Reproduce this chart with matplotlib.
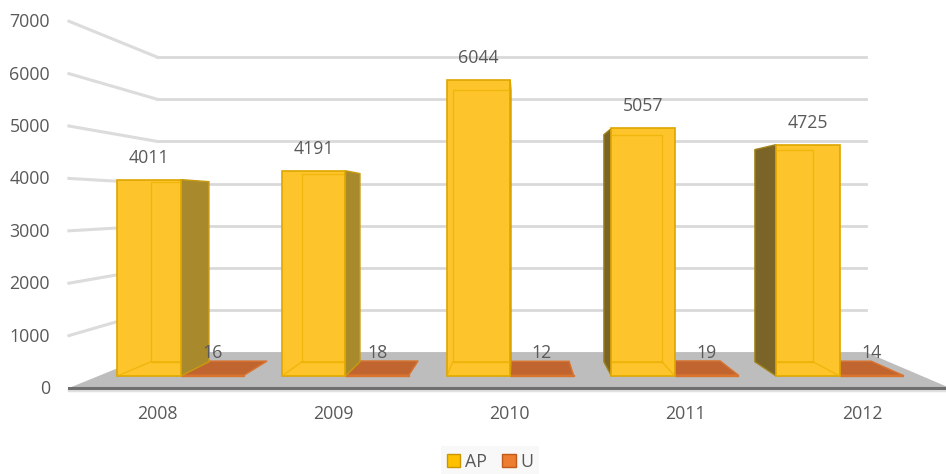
import matplotlib.pyplot as plt
from matplotlib.patches import Polygon, Patch

years = ['2008', '2009', '2010', '2011', '2012']
ap_values = [4011, 4191, 6044, 5057, 4725]
u_values = [16, 18, 12, 19, 14]
y_ticks = [0, 1000, 2000, 3000, 4000, 5000, 6000, 7000]

plt.rcParams['font.family'] = ['Open Sans', 'DejaVu Sans']
TXT = '#595959'
FS = 12.8

# simple perspective: a point at depth factor s is pulled toward (VX, VY)
VX, VY = 2.06, 3500
FRONT, BAR_FRONT, BAR_BACK, BACK = 1.0, 0.9346, 0.857, 0.804
X_LEFT, X_RIGHT = -0.5, 4.5
BAR_W = 0.385


def proj(x, v, s):
    return (VX + s * (x - VX), VY + s * (v - VY))


def box_faces(x0, x1, v):
    f = [proj(x0, 0, BAR_FRONT), proj(x1, 0, BAR_FRONT), proj(x1, v, BAR_FRONT), proj(x0, v, BAR_FRONT)]
    b = [proj(x0, 0, BAR_BACK), proj(x1, 0, BAR_BACK), proj(x1, v, BAR_BACK), proj(x0, v, BAR_BACK)]
    top = [f[3], f[2], b[2], b[3]]
    bottom = [f[0], f[1], b[1], b[0]]
    left = [f[0], b[0], b[3], f[3]]
    right = [f[1], b[1], b[2], f[2]]
    return f, b, top, bottom, left, right


fig = plt.figure(figsize=(9.46, 4.74), dpi=100)
ax = fig.add_axes([0, 0, 1, 1])
ax.set_xlim(-0.891, 4.477)
ax.set_ylim(-1641, 7405)
ax.axis('off')

# floor
floor = [proj(X_LEFT, 0, FRONT), proj(X_RIGHT, 0, FRONT), proj(X_RIGHT, 0, BACK), proj(X_LEFT, 0, BACK)]
ax.add_patch(Polygon(floor, closed=True, fc='#bdbdbd', ec='none', zorder=1))
fx = [floor[0][0], floor[1][0]]
ax.plot(fx, [floor[0][1] - 45, floor[1][1] - 45], color='#e0e0e0', lw=2.5, zorder=1)
ax.plot(fx, [floor[0][1], floor[1][1]], color='#6f6f6f', lw=2.2, zorder=2)

# gridlines on back wall and left wall
for t in y_ticks[1:]:
    a = proj(X_LEFT, t, BACK)
    b = proj(X_RIGHT, t, BACK)
    c = proj(X_LEFT, t, FRONT)
    ax.plot([a[0], b[0]], [a[1], b[1]], color='#d9d9d9', lw=2, zorder=0)
    ax.plot([c[0], a[0]], [c[1], a[1]], color='#dcdcdc', lw=2.2, zorder=0)

# value axis labels
for t in y_ticks:
    ax.annotate(str(t), xy=(X_LEFT, t), xytext=(-19, -6), textcoords='offset pixels',
                ha='right', va='baseline', fontsize=FS, color=TXT)

# category labels
for i, yr in enumerate(years):
    ax.annotate(yr, xy=(i, 0), xytext=(0, -31), textcoords='offset pixels',
                ha='center', va='baseline', fontsize=FS, color=TXT)

# U series: nearly flat boxes on the floor
for i, u in enumerate(u_values):
    x0, x1 = i, i + BAR_W
    f, b, top, bottom, left, right = box_faces(x0, x1, u)
    ax.add_patch(Polygon(top, closed=True, fc='#c0652f', ec='#d97430', lw=1, zorder=3))
    ax.add_patch(Polygon(f, closed=True, fc='#c0652f', ec='#d97430', lw=1, zorder=3))
    lx, ly = proj((x0 + x1) / 2, u, BAR_FRONT)
    ax.annotate(str(u), xy=(lx, ly), xytext=(0, 17), textcoords='offset pixels',
                ha='center', va='baseline', fontsize=FS, color=TXT, zorder=10)

# AP series: glassy boxes, back edges show faintly inside the front face
for i, v in enumerate(ap_values):
    x0, x1 = i - BAR_W, i
    f, b, top, bottom, left, right = box_faces(x0, x1, v)
    if x1 < VX:
        ax.add_patch(Polygon(right, closed=True, fc='#a88a2c', ec='#c99a10', lw=1, zorder=5))
    elif x0 > VX:
        ax.add_patch(Polygon(left, closed=True, fc='#7a6428', ec='#a2841a', lw=1, zorder=5))
    front = Polygon(f, closed=True, fc='#fdc52b', ec='#dea600', lw=1.2, zorder=6)
    ax.add_patch(front)
    for face in (b, bottom):
        inner = Polygon(face, closed=True, fc='none', ec='#ebb000', lw=1, alpha=0.7, zorder=7)
        ax.add_patch(inner)
        inner.set_clip_path(front)
    lx, ly = proj((x0 + x1) / 2, v, BAR_FRONT)
    ax.annotate(str(v), xy=(lx, ly), xytext=(0, 17), textcoords='offset pixels',
                ha='center', va='baseline', fontsize=FS, color=TXT, zorder=10)

handles = [Patch(fc='#ffc000', ec='#c99700', label='AP'),
           Patch(fc='#ed7d31', ec='#c05a1a', label='U')]
leg = fig.legend(handles=handles, loc='center', bbox_to_anchor=(0.518, 0.026), ncol=2,
                 frameon=True, facecolor='#f7f7f7', edgecolor='none', fancybox=False,
                 handlelength=0.75, handleheight=0.75, handletextpad=0.25,
                 columnspacing=0.9, fontsize=FS, borderpad=0.35)
for txt in leg.get_texts():
    txt.set_color(TXT)

fig.savefig('out.png', dpi=100)
